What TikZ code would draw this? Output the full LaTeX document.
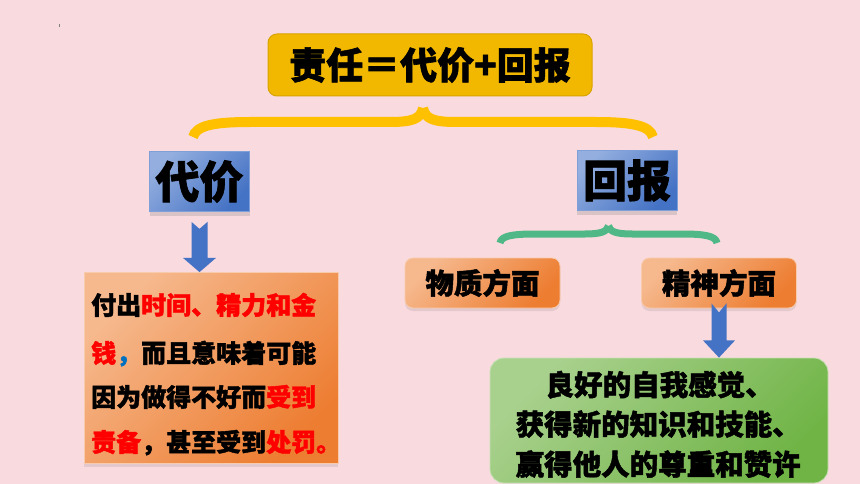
\documentclass[tikz,border=0pt]{standalone}
\usepackage{fontspec}
\newfontfamily\cjk{Noto Sans CJK SC}[BoldFeatures={FakeBold=1.6}]
\usetikzlibrary{calc,shadows}
\definecolor{bg}{HTML}{F9DADF}
\definecolor{titlefill}{HTML}{F2B800}
\definecolor{titleborder}{HTML}{D9A300}
\definecolor{ybrace}{HTML}{FFC000}
\definecolor{gbrace}{HTML}{4FB886}
\definecolor{blueL}{HTML}{93AEDF}
\definecolor{blueD}{HTML}{4472C4}
\definecolor{blueB}{HTML}{7F9FD8}
\definecolor{oL}{HTML}{F6B98E}
\definecolor{oD}{HTML}{ED7D31}
\definecolor{oB}{HTML}{F8CBAD}
\definecolor{gL}{HTML}{A9D18E}
\definecolor{gD}{HTML}{70B446}
\definecolor{gB}{HTML}{C5E0B4}
\definecolor{txtred}{HTML}{FF0000}
\definecolor{commablue}{HTML}{0070C0}
\begin{document}
\begin{tikzpicture}[x=1pt,y=-1pt,
  cjkfont/.style={font=\cjk\bfseries\fontsize{#1}{#1}\selectfont},
  titlebox/.style={draw=titleborder,fill=titlefill,rounded corners=9pt,line width=1pt,
    minimum width=324pt,minimum height=62pt,inner sep=0pt,cjkfont=37},
  bluebox/.style={draw=blueB,line width=0.8pt,top color=blueL,bottom color=blueD,shading angle=45,
    minimum width=100pt,minimum height=60pt,inner sep=0pt,cjkfont=44,
    drop shadow={opacity=0.25,shadow xshift=0pt,shadow yshift=-4pt}},
  obox/.style={draw=oB,line width=0.8pt,rounded corners=8pt,top color=oL,bottom color=oD,shading angle=45,
    minimum width=155pt,minimum height=50pt,inner sep=0pt,cjkfont=28.5,
    drop shadow={opacity=0.18,shadow xshift=0pt,shadow yshift=-3pt}},
  bigobox/.style={draw=oB,line width=0.8pt,top color=oL,bottom color=oD,shading angle=45,
    minimum width=254pt,minimum height=191pt,inner sep=0pt,
    drop shadow={opacity=0.18,shadow xshift=0pt,shadow yshift=-3pt}},
  gbox/.style={draw=gB,line width=0.8pt,rounded corners=14pt,top color=gL,bottom color=gD,shading angle=45,
    minimum width=338pt,minimum height=125pt,inner sep=0pt},
  ltext/.style={anchor=base west,inner sep=0pt,cjkfont=25},
  gtext/.style={anchor=base west,inner sep=0pt,cjkfont=28.5},
  brace/.style={line width=#1,line cap=butt},
  barrow/.style={fill=blueD}
]
\fill[bg] (0,0) rectangle (860,484);
\useasboundingbox (0,0) rectangle (860,484);
\fill[gray] (58.6,24.5) rectangle (59.4,27);

% title
\node[titlebox] (title) at (430,65) {责任＝代价+回报};

% yellow brace
\coordinate (yl) at (193,137);
\coordinate (yr) at (653,137);
\coordinate (yt) at (423,108);
\draw[ybrace,brace=10pt] (yl) .. controls (196,126) and (212,122) .. (250,122) -- (390,122)
  .. controls (412,122) and (421,119) .. (yt);
\draw[ybrace,brace=10pt] (yr) .. controls (650,126) and (634,122) .. (596,122) -- (456,122)
  .. controls (434,122) and (425,119) .. (yt);

% blue boxes
\node[bluebox] (dj) at (199.5,181.5) {代价};
\node[bluebox] (hb) at (627,180.5) {回报};

% left orange box
\node[bigobox] (lb) at (211,368) {};
\node[ltext] (lt1) at (91,314.5) {付出\textcolor{txtred}{时间、精力和金}};
\node[ltext] (lt2) at (91,362.5) {\textcolor{txtred}{钱}\textcolor{commablue}{，}而且意味着可能};
\node[ltext] (lt3) at (91,406.5) {因为做得不好而\textcolor{txtred}{受到}};
\node[ltext] (lt4) at (91,451.5) {\textcolor{txtred}{责备}，甚至受到\textcolor{txtred}{处罚。}};

% left arrow
\fill[barrow] ($(dj.south)+(-8,10)$) -- ($(dj.south)+(0,17)$) -- ($(dj.south)+(8,10)$)
  -- ($(dj.south)+(8,46)$) -- ($(dj.south)+(16.5,46)$) -- (dj.south |- lb.north)
  -- ($(dj.south)+(-16.5,46)$) -- ($(dj.south)+(-8,46)$) -- cycle;

% green brace
\coordinate (gl) at (500,243);
\coordinate (gr) at (717,243);
\coordinate (gt) at (608.5,226);
\draw[gbrace,brace=7pt] (gl) .. controls (501,236) and (512,234) .. (535,234) -- (585,234)
  .. controls (600,234) and (607,232) .. (gt);
\draw[gbrace,brace=7pt] (gr) .. controls (716,236) and (705,234) .. (682,234) -- (632,234)
  .. controls (617,234) and (610,232) .. (gt);

% orange small boxes
\node[obox] (wz) at (482.5,283) {物质方面};
\node[obox] (js) at (719,283) {精神方面};

% green box
\node[gbox] (gb) at (659,420.5) {};
\node[gtext] (gt1) at (545.5,395.5) {良好的自我感觉、};
\node[gtext] (gt2) at (515.5,435) {获得新的知识和技能、};
\node[gtext] (gt3) at (515.5,475) {赢得他人的尊重和赞许};

% right arrow
\fill[barrow] ($(js.south)+(-7.5,-5)$) -- ($(js.south)+(0,4)$) -- ($(js.south)+(7.5,-5)$)
  -- ($(js.south)+(7.5,32)$) -- ($(js.south)+(16,32)$) -- (js.south |- gb.north)
  -- ($(js.south)+(-16,32)$) -- ($(js.south)+(-7.5,32)$) -- cycle;
\end{tikzpicture}
\end{document}
